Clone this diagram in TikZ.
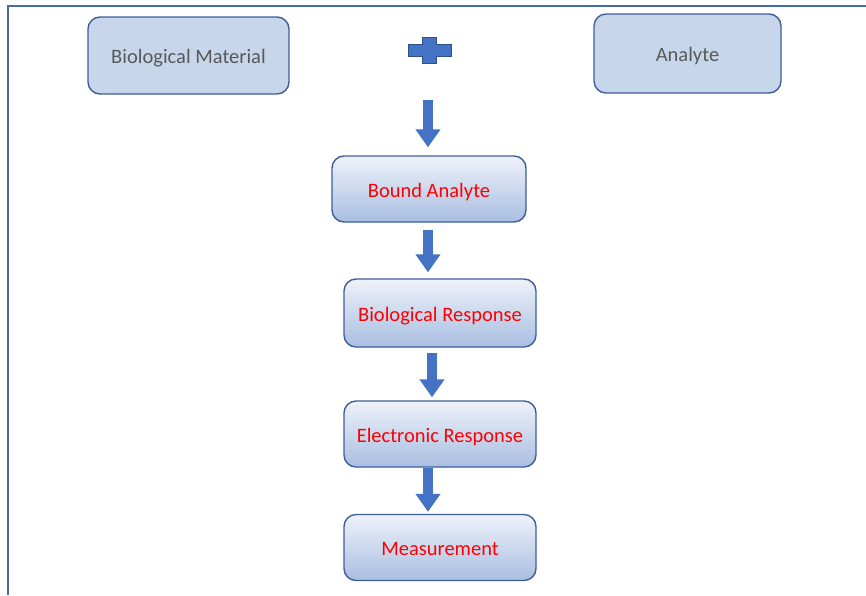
\documentclass[tikz,border=0pt]{standalone}
\usepackage{fontspec}
\setmainfont{Carlito}
\usetikzlibrary{arrows.meta}
\definecolor{framecol}{HTML}{4A6AA5}
\definecolor{edgecol}{HTML}{3F5E98}
\definecolor{plainfill}{HTML}{C8D6EC}
\definecolor{greytext}{HTML}{595959}
\definecolor{shadetop}{HTML}{EEF2FA}
\definecolor{shadebot}{HTML}{A9BEE1}
\definecolor{arrowblue}{HTML}{4472C4}
\definecolor{arrowdark}{HTML}{2F528F}
\begin{document}
\begin{tikzpicture}[x=1pt,y=-1pt,
  plainbox/.style={draw=edgecol, line width=1.4pt, fill=plainfill, rounded corners=12pt,
    text=greytext, font=\fontsize{20.5}{24}\selectfont, text height=18pt, text depth=2pt},
  stepbox/.style={draw=edgecol, line width=1.4pt, rounded corners=12pt,
    top color=shadetop, bottom color=shadebot, text=red,
    font=\fontsize{20.5}{24}\selectfont, text height=18pt, text depth=2pt,
    minimum width=192pt, minimum height=66pt},
  flowarrow/.style={line width=10pt, draw=arrowblue, -{Triangle[width=24pt,length=18pt,fill=arrowblue]}}]
\useasboundingbox (0,0) rectangle (866,595);
% Draw frame
\draw[framecol, line width=1.3pt] (8,595) -- (8,6) -- (866,6);
% Draw inputs
\node[plainbox, minimum width=201pt, minimum height=77pt] (material) at (188.5,55.5) {Biological Material};
\node[plainbox, minimum width=187pt, minimum height=79pt] (analyte) at (687.5,53.5) {Analyte};
% Draw plus sign
\coordinate (plus) at (429.5,50);
\fill[arrowblue, draw=arrowdark, line width=0.6pt]
  ([xshift=-7]plus) ++(0,-13) -- ++(14,0) -- ++(0,7) -- ++(14.5,0) -- ++(0,12) -- ++(-14.5,0)
  -- ++(0,7) -- ++(-14,0) -- ++(0,-7) -- ++(-14.5,0) -- ++(0,-12) -- ++(14.5,0) -- cycle;
% Draw steps
\node[stepbox, minimum width=194pt] (bound) at (429,189) {Bound Analyte};
\node[stepbox, minimum height=68pt] (bioresp) at (440,313) {Biological Response};
\node[stepbox] (elecresp) at (440,434) {Electronic Response};
\node[stepbox] (measure) at (440,547.5) {Measurement};
% Draw arrows
\coordinate (start) at (428,100);
\draw[flowarrow, shorten >=8pt] (start) -- (start |- bound.north);
\draw[flowarrow, shorten <=7pt, shorten >=6pt] ([xshift=-1]bound.south) -- ([xshift=-1]bound.south |- bioresp.north);
\draw[flowarrow, shorten <=5pt, shorten >=3pt] ([xshift=-8]bioresp.south) -- ([xshift=-8]elecresp.north);
\draw[flowarrow, shorten >=2pt] ([xshift=-12]elecresp.south) -- ([xshift=-12]measure.north);
\end{tikzpicture}
\end{document}
